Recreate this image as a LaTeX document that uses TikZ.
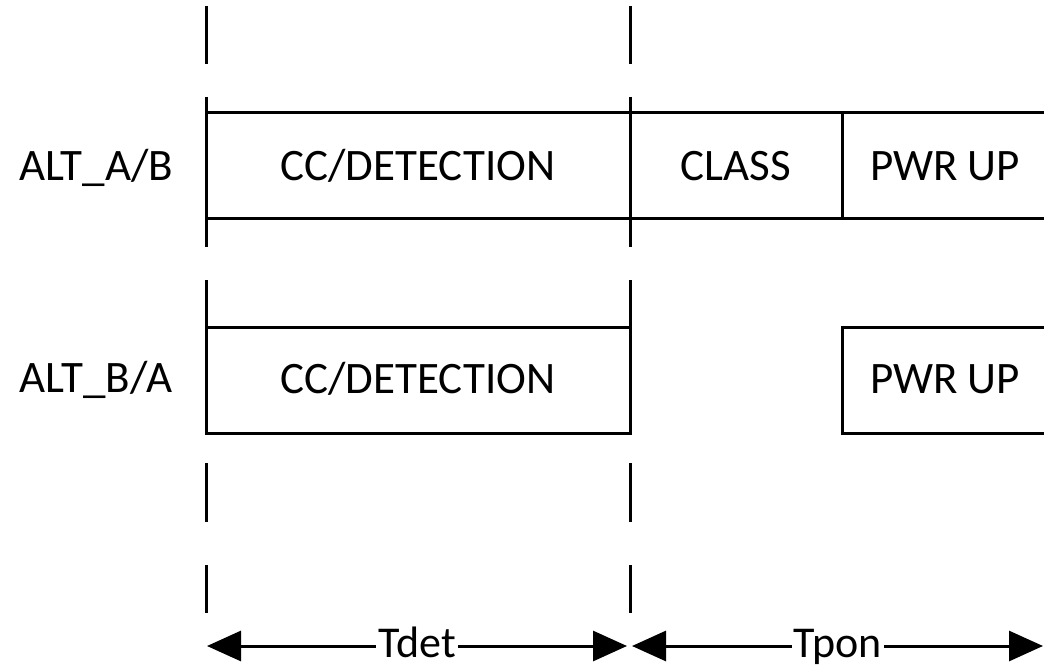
\documentclass[tikz,border=0pt]{standalone}
\usepackage{fontspec}
\setmainfont{Carlito}
\usetikzlibrary{arrows.meta}
\begin{document}
\begin{tikzpicture}[x=1pt,y=-1pt,
  ln/.style={line width=3pt},
  lbl/.style={font=\fontsize{45}{54}\selectfont, anchor=base, inner sep=0pt},
  dimline/.style={line width=3pt, {Triangle[length=34pt,width=30pt]}-{Triangle[length=34pt,width=30pt]}},
  dimlbl/.style={font=\fontsize{44}{52}\selectfont, fill=white, inner xsep=2pt, inner ysep=0pt, anchor=base}]
\useasboundingbox (0,0) rectangle (1044,666);
% dashed time markers
\foreach \x in {206,630}
  \foreach \a/\b in {6/64,97/247,280/433,463/522,565/613}
    \draw[ln] (\x,\a) -- (\x,\b);
% row 1
\draw[ln] (1047,113) -- (206,113);
\draw[ln] (206,218) -- (1047,218);
\draw[ln] (842,113) -- (842,218);
% row 2
\draw[ln] (206,327) rectangle (630,433);
\draw[ln] (1047,327) -- (842,327) -- (842,433) -- (1047,433);
% labels
\node[lbl] (alta) at (96,180) {ALT\_A/B};
\node[lbl] (altb) at (96,392) {ALT\_B/A};
\node[lbl] (det1) at (418,180) {CC/DETECTION};
\node[lbl] (class) at (736,180) {CLASS};
\node[lbl] (pwr1) at (945,180) {PWR UP};
\node[lbl] (det2) at (418,393) {CC/DETECTION};
\node[lbl] (pwr2) at (945,393) {PWR UP};
% dimension arrows
\coordinate (d1) at (207,646);
\coordinate (d2) at (627,646);
\coordinate (p1) at (632,646);
\coordinate (p2) at (1043,646);
\draw[dimline] (d1) -- (d2);
\draw[dimline] (p1) -- (p2);
\node[dimlbl] (tdet) at (417,657) {Tdet};
\node[dimlbl] (tpon) at (838,657) {Tpon};
\end{tikzpicture}
\end{document}
